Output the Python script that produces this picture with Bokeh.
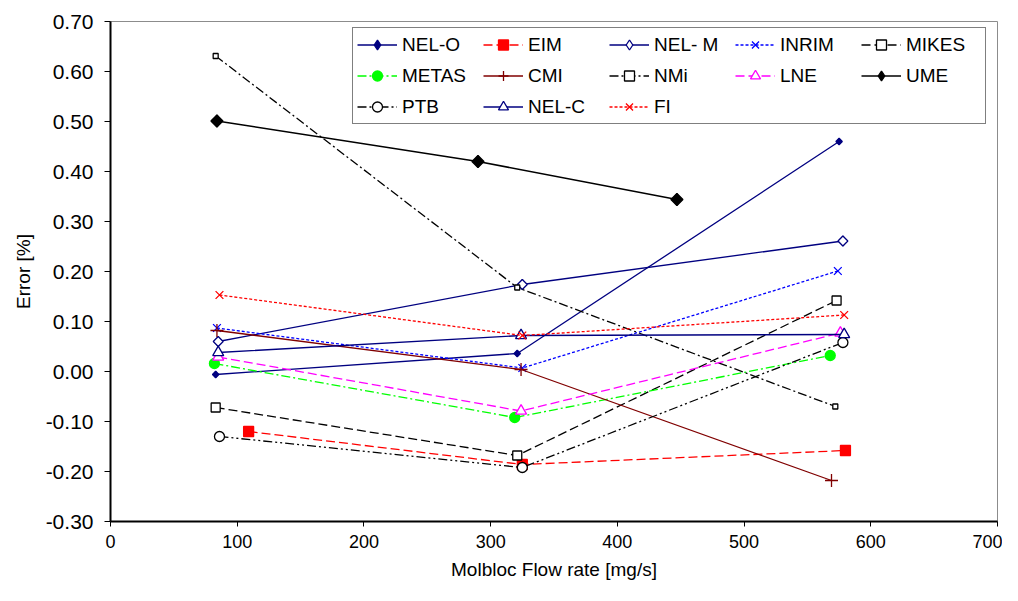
import math
from bokeh.plotting import figure
from bokeh.models import Range1d, FixedTicker, NumeralTickFormatter, Legend, LegendItem
from bokeh.embed import file_html
from bokeh.resources import INLINE

# ---- data ----
series_names = ["NEL-O", "EIM", "NEL- M", "INRIM", "MIKES",
                "METAS", "CMI", "NMi", "LNE", "UME",
                "PTB", "NEL-C", "FI"]

nel_o_x = [83, 321, 575]
nel_o_y = [-0.006, 0.036, 0.460]
eim_x = [109, 325, 580]
eim_y = [-0.120, -0.186, -0.158]
nel_m_x = [85, 325, 578]
nel_m_y = [0.060, 0.174, 0.261]
inrim_x = [84, 325, 574]
inrim_y = [0.087, 0.007, 0.201]
mikes_x = [83, 321, 573]
mikes_y = [-0.072, -0.168, 0.142]
metas_x = [82, 319, 568]
metas_y = [0.016, -0.092, 0.032]
cmi_x = [84, 324, 569]
cmi_y = [0.082, 0.004, -0.218]
nmi_x = [83, 321, 572]
nmi_y = [0.631, 0.168, -0.070]
lne_x = [85, 324, 576]
lne_y = [0.029, -0.079, 0.077]
ume_x = [84, 290, 447]
ume_y = [0.501, 0.420, 0.344]
ptb_x = [86, 325, 578]
ptb_y = [-0.130, -0.192, 0.058]
nel_c_x = [85, 324, 579]
nel_c_y = [0.038, 0.072, 0.074]
fi_x = [86, 325, 579]
fi_y = [0.153, 0.072, 0.113]

x_ticks = [0, 100, 200, 300, 400, 500, 600, 700]
y_ticks = [-0.3, -0.2, -0.1, 0.0, 0.1, 0.2, 0.3, 0.4, 0.5, 0.6, 0.7]

series_data = {
    "NEL-O": (nel_o_x, nel_o_y),
    "EIM": (eim_x, eim_y),
    "NEL- M": (nel_m_x, nel_m_y),
    "INRIM": (inrim_x, inrim_y),
    "MIKES": (mikes_x, mikes_y),
    "METAS": (metas_x, metas_y),
    "CMI": (cmi_x, cmi_y),
    "NMi": (nmi_x, nmi_y),
    "LNE": (lne_x, lne_y),
    "UME": (ume_x, ume_y),
    "PTB": (ptb_x, ptb_y),
    "NEL-C": (nel_c_x, nel_c_y),
    "FI": (fi_x, fi_y),
}

# ---- styles ----
NAVY = "#000080"
D = math.pi / 4
styles = {
    "NEL-O": dict(color=NAVY, dash="solid", marker="square", angle=D, size=4.5, fill=NAVY, lw=1.3,
                  leg=("diamond", 6)),
    "EIM": dict(color="#FF0000", dash="9 4", marker="square", angle=0, size=10, fill="#FF0000", lw=1.3),
    "NEL- M": dict(color=NAVY, dash="solid", marker="square", angle=D, size=7, fill="white", lw=1.3,
                   leg=("diamond", 9.8)),
    "INRIM": dict(color="#0000FF", dash="3 2", marker="x", angle=0, size=11, fill="#0000FF", lw=1.3),
    "MIKES": dict(color="black", dash="9 4", marker="square", angle=0, size=9, fill="white", lw=1.3),
    "METAS": dict(color="#00FF00", dash="9 3 2 3", marker="circle", angle=0, size=10, fill="#00FF00", lw=1.3),
    "CMI": dict(color="#800000", dash="solid", marker="cross", angle=0, size=13, fill="#800000", lw=1.3),
    "NMi": dict(color="black", dash="9 3 2 3", marker="square", angle=0, size=5, fill="white", lw=1.3),
    "LNE": dict(color="#FF00FF", dash="9 4", marker="triangle", angle=0, size=11, fill="white", lw=1.3),
    "UME": dict(color="black", dash="solid", marker="square", angle=D, size=8.5, fill="black", lw=1.5,
                leg=("diamond", 12)),
    "PTB": dict(color="black", dash="9 3 2 3 2 3", marker="circle", angle=0, size=10, fill="white", lw=1.3),
    "NEL-C": dict(color=NAVY, dash="solid", marker="triangle", angle=0, size=11, fill="white", lw=1.3),
    "FI": dict(color="#FF0000", dash="3 2", marker="x", angle=0, size=11, fill="#FF0000", lw=1.3),
}

FONT = "Liberation Sans"

p = figure(width=1002, height=585, output_backend="svg", toolbar_location=None,
           x_range=Range1d(0, 700), y_range=Range1d(-0.3, 0.7),
           min_border_left=110, min_border_right=5, min_border_top=21, min_border_bottom=64)

p.outline_line_color = "#8c8c8c"
p.outline_line_width = 1
p.xgrid.visible = False
p.ygrid.visible = False
p.background_fill_color = "white"
p.border_fill_color = "white"

items = []
for name in series_names:
    xs, ys = series_data[name]
    s = styles[name]
    r1 = p.line(xs, ys, line_color=s["color"], line_width=s["lw"], line_dash=s["dash"])
    rl = None
    if "leg" in s:
        # diamond glyph (hidden under the rotated square) used for the legend symbol
        lm, ls = s["leg"]
        rl = p.scatter(xs, ys, marker=lm, size=ls, line_color=s["color"],
                       fill_color=s["fill"], line_width=1.3)
    r2 = p.scatter(xs, ys, marker=s["marker"], angle=s["angle"], size=s["size"],
                   line_color=s["color"], fill_color=s["fill"], line_width=1.3)
    items.append(LegendItem(label=name, renderers=[r1, rl if rl is not None else r2]))

# axes
p.xaxis.ticker = FixedTicker(ticks=x_ticks)
p.yaxis.ticker = FixedTicker(ticks=y_ticks)
p.yaxis.formatter = NumeralTickFormatter(format="0.00")
for ax in (p.xaxis, p.yaxis):
    ax.axis_line_color = "black"
    ax.axis_line_width = 2
    ax.major_tick_line_color = "black"
    ax.major_tick_line_width = 1
    ax.major_tick_in = 0
    ax.minor_tick_line_color = None
    ax.major_label_text_font = FONT
    ax.major_label_text_color = "black"
    ax.axis_label_text_font = FONT
    ax.axis_label_text_font_style = "normal"
    ax.axis_label_text_color = "black"
    ax.axis_label_text_font_size = "19px"

p.xaxis.major_tick_out = 5
p.xaxis.major_label_standoff = 8
p.xaxis.major_label_text_font_size = "18px"
p.xaxis.axis_label = "Molbloc Flow rate [mg/s]"
p.xaxis.axis_label_standoff = 8

p.yaxis.major_tick_out = 6
p.yaxis.major_label_standoff = 11
p.yaxis.major_label_text_font_size = "21px"
p.yaxis.axis_label = "Error [%]"
p.yaxis.axis_label_standoff = 9

legend = Legend(items=items, location=(242, 397), orientation="horizontal", ncols=5,
                glyph_width=40, glyph_height=25, label_standoff=5, label_width=75,
                label_height=25, spacing=6, padding=4, margin=0,
                border_line_color="black", border_line_width=1,
                background_fill_color="white", background_fill_alpha=1.0,
                label_text_font=FONT, label_text_font_size="19px",
                label_text_color="black")
p.add_layout(legend)

open("out.html", "w").write(file_html(p, INLINE))
